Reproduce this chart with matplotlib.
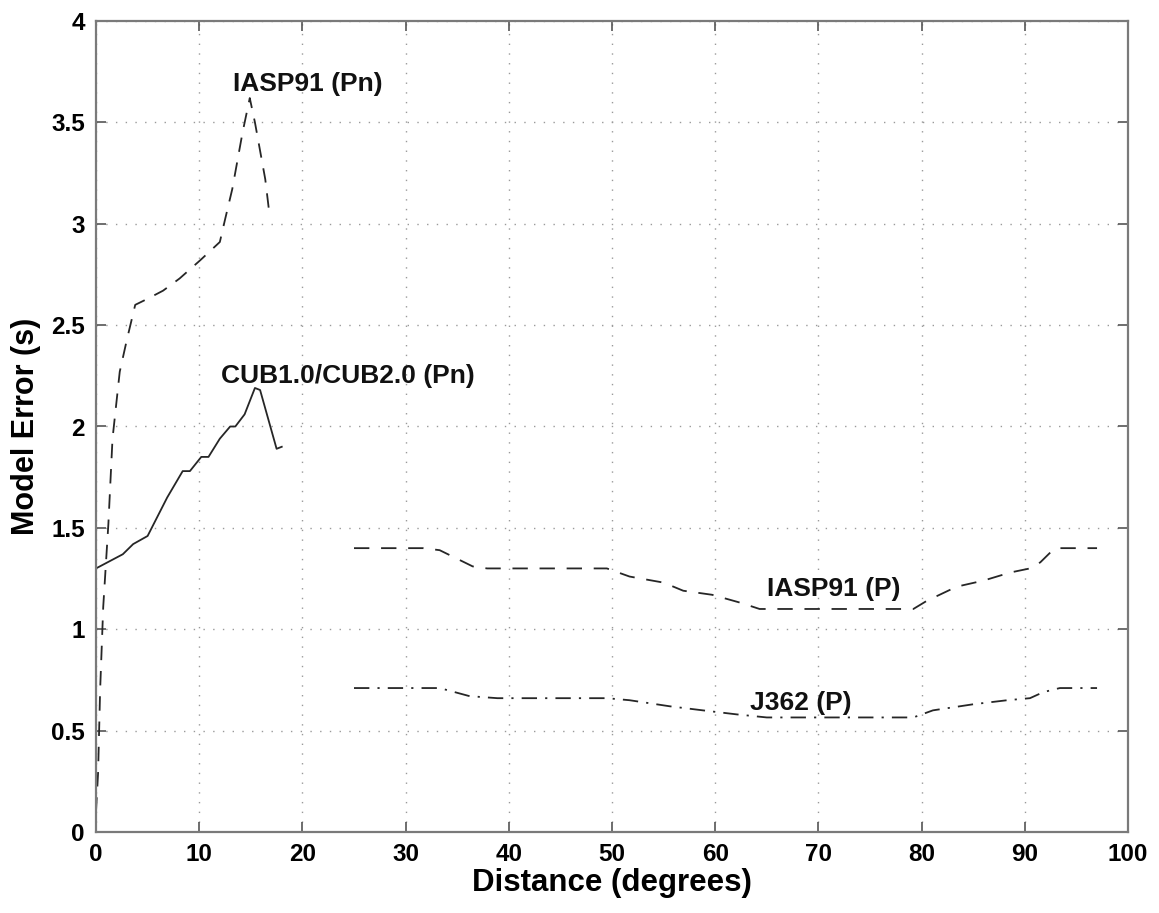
import matplotlib
matplotlib.use("Agg")
import matplotlib.pyplot as plt

# IASP91 (Pn) - dashed
iasp_pn_x = [0.0, 0.2, 0.4, 0.7, 1.2, 1.6, 2.3, 3.0, 3.8, 5.0, 6.5, 8.1, 10.1, 12.0, 12.5, 13.2, 13.7, 14.2, 14.9, 15.4, 15.9, 16.4, 16.8]
iasp_pn_y = [0.10, 0.29, 0.70, 1.11, 1.52, 1.94, 2.27, 2.43, 2.60, 2.63, 2.67, 2.73, 2.82, 2.91, 3.02, 3.17, 3.31, 3.45, 3.62, 3.50, 3.36, 3.22, 3.05]

# CUB1.0/CUB2.0 (Pn) - solid
cub_x = [0.0, 2.6, 3.6, 5.0, 6.9, 8.4, 9.1, 10.2, 10.9, 12.0, 13.0, 13.5, 14.4, 15.4, 15.9, 17.5, 18.0]
cub_y = [1.30, 1.37, 1.42, 1.46, 1.65, 1.78, 1.78, 1.85, 1.85, 1.94, 2.00, 2.00, 2.06, 2.19, 2.18, 1.89, 1.90]

# IASP91 (P) - dashed
iasp_p_x = [25.0, 31.7, 33.3, 36.5, 37.9, 49.5, 51.7, 55.0, 56.9, 59.7, 62.5, 64.3, 79.2, 80.5, 83.4, 86.0, 88.6, 90.5, 91.5, 92.7, 93.1, 97.0]
iasp_p_y = [1.40, 1.40, 1.39, 1.31, 1.30, 1.30, 1.26, 1.23, 1.19, 1.17, 1.13, 1.10, 1.10, 1.14, 1.21, 1.24, 1.28, 1.30, 1.33, 1.39, 1.40, 1.40]

# J362 (P) - dash-dot
j362_x = [25.0, 31.7, 33.3, 36.2, 38.9, 49.5, 51.7, 55.6, 58.8, 62.1, 65.0, 79.2, 81.1, 85.0, 88.3, 90.5, 91.8, 93.4, 97.0]
j362_y = [0.71, 0.71, 0.71, 0.67, 0.66, 0.66, 0.65, 0.62, 0.60, 0.58, 0.565, 0.565, 0.60, 0.63, 0.65, 0.66, 0.69, 0.71, 0.71]

labels = ["IASP91 (Pn)", "CUB1.0/CUB2.0 (Pn)", "IASP91 (P)", "J362 (P)"]
label_x = [20.5, 24.4, 71.5, 68.3]
label_y = [3.69, 2.25, 1.20, 0.636]

x_ticks = [0, 10, 20, 30, 40, 50, 60, 70, 80, 90, 100]
y_ticks = [0, 0.5, 1, 1.5, 2, 2.5, 3, 3.5, 4]
y_ticklabels = ["0", "0.5", "1", "1.5", "2", "2.5", "3", "3.5", "4"]

plt.rcParams['font.family'] = ['Liberation Sans', 'DejaVu Sans']
plt.rcParams['font.weight'] = 'bold'

fig = plt.figure(figsize=(11.59, 9.13), dpi=100)
ax = fig.add_axes([96/1159, 1-832/913, (1128-96)/1159, (832-21)/913])

lc = '#262626'
ax.plot(iasp_pn_x, iasp_pn_y, color=lc, lw=1.3, linestyle=(0, (8, 6)))
ax.plot(cub_x, cub_y, color=lc, lw=1.3, linestyle='-')
ax.plot(iasp_p_x, iasp_p_y, color=lc, lw=1.3, linestyle=(0, (8.5, 6.5)))
ax.plot(j362_x, j362_y, color=lc, lw=1.3, linestyle=(0, (8.5, 4.5, 1.2, 4.5)))

for t, x, y in zip(labels, label_x, label_y):
    ax.text(x, y, t, ha='center', va='center', fontsize=19, fontweight='bold', color='#111111')

ax.set_xlim(0, 100)
ax.set_ylim(0, 4)
ax.set_xticks(x_ticks)
ax.set_yticks(y_ticks)
ax.set_yticklabels(y_ticklabels)
ax.tick_params(direction='in', length=7, width=1.2, color='#555555', labelsize=17.5,
               top=True, right=True, pad=8)
for lab in ax.get_xticklabels() + ax.get_yticklabels():
    lab.set_fontweight('bold')
ax.grid(True, color='#9a9a9a', linestyle=(0, (1, 6)), linewidth=1.0)
for s in ax.spines.values():
    s.set_color('#7a7a7a')
    s.set_linewidth(1.6)

ax.set_xlabel('Distance (degrees)', fontsize=22.5, fontweight='bold', labelpad=1)
ax.set_ylabel('Model Error (s)', fontsize=22, fontweight='bold', labelpad=7)

fig.savefig('out.png', dpi=100)
